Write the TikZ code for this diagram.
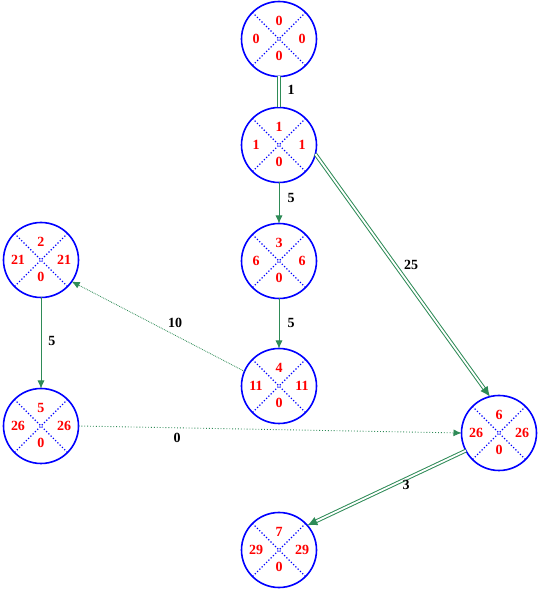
\documentclass[tikz,border=0pt]{standalone}
\usepackage{fontspec}
\setmainfont{Liberation Serif}
\usetikzlibrary{arrows.meta}
\definecolor{arcgreen}{RGB}{46,139,87}

\begin{document}
\begin{tikzpicture}[x=1pt,y=1pt,
  event/.style={circle,draw=blue,line width=1.6pt,minimum size=75pt,inner sep=0pt,outer sep=0pt},
  cross/.style={blue,dotted,line width=1.2pt},
  num/.style={text=red,font=\bfseries\fontsize{14}{14}\selectfont,inner sep=0pt},
  dur/.style={font=\bfseries\fontsize{14}{14}\selectfont,inner sep=0pt},
  act/.style={arcgreen,line width=0.8pt,-{Latex[length=8pt,width=7pt]}},
  crit/.style={arcgreen,line width=1pt,double,double distance=1.8pt},
  dummy/.style={arcgreen,dotted,line width=0.9pt,-{Latex[length=8pt,width=7pt]}}]
\useasboundingbox (0,0) rectangle (544,590);

\node[event] (v0) at (279,551) {};
\node[event] (v1) at (279,445) {};
\node[event] (v2) at (41,330) {};
\node[event] (v3) at (279,329) {};
\node[event] (v4) at (279,204) {};
\node[event] (v5) at (41,164) {};
\node[event] (v6) at (499,157) {};
\node[event] (v7) at (279,40) {};

% number, early, late, slack
\foreach \v/\t/\l/\r/\b in {v0/0/0/0/0, v1/1/1/1/0, v2/2/21/21/0, v3/3/6/6/0,
                            v4/4/11/11/0, v5/5/26/26/0, v6/6/26/26/0, v7/7/29/29/0}{
  \draw[cross] (\v.north west) -- (\v.south east) (\v.north east) -- (\v.south west);
  \node[num] (\v-t) at ([yshift=18pt]\v.center) {\t};
  \node[num] (\v-l) at ([xshift=-23pt]\v.center) {\l};
  \node[num] (\v-r) at ([xshift=23pt]\v.center) {\r};
  \node[num] (\v-b) at ([yshift=-17pt]\v.center) {\b};
}

\draw[crit] (v0) -- (v1);
\draw[act] (v1) -- (v3);
\draw[act] (v3) -- (v4);
\draw[crit,-{Latex[length=10pt,width=9pt]}] (v1.-14) -- (v6.104);
\draw[act,densely dotted] (v4.157) -- (v2.-35);
\draw[act] (v2) -- (v5);
\draw[dummy] (v5.0) -- (v6.180);
\draw[crit,-{Latex[length=10pt,width=9pt]}] (v6.208) -- (v7.41);

\node[dur] (d01) at (291,500) {1};
\node[dur] (d13) at (291,392) {5};
\node[dur] (d34) at (291,267) {5};
\node[dur] (d16) at (411,325) {25};
\node[dur] (d42) at (175,267) {10};
\node[dur] (d25) at (52,249) {5};
\node[dur] (d56) at (177,152) {0};
\node[dur] (d67) at (406,105) {3};

\end{tikzpicture}
\end{document}
